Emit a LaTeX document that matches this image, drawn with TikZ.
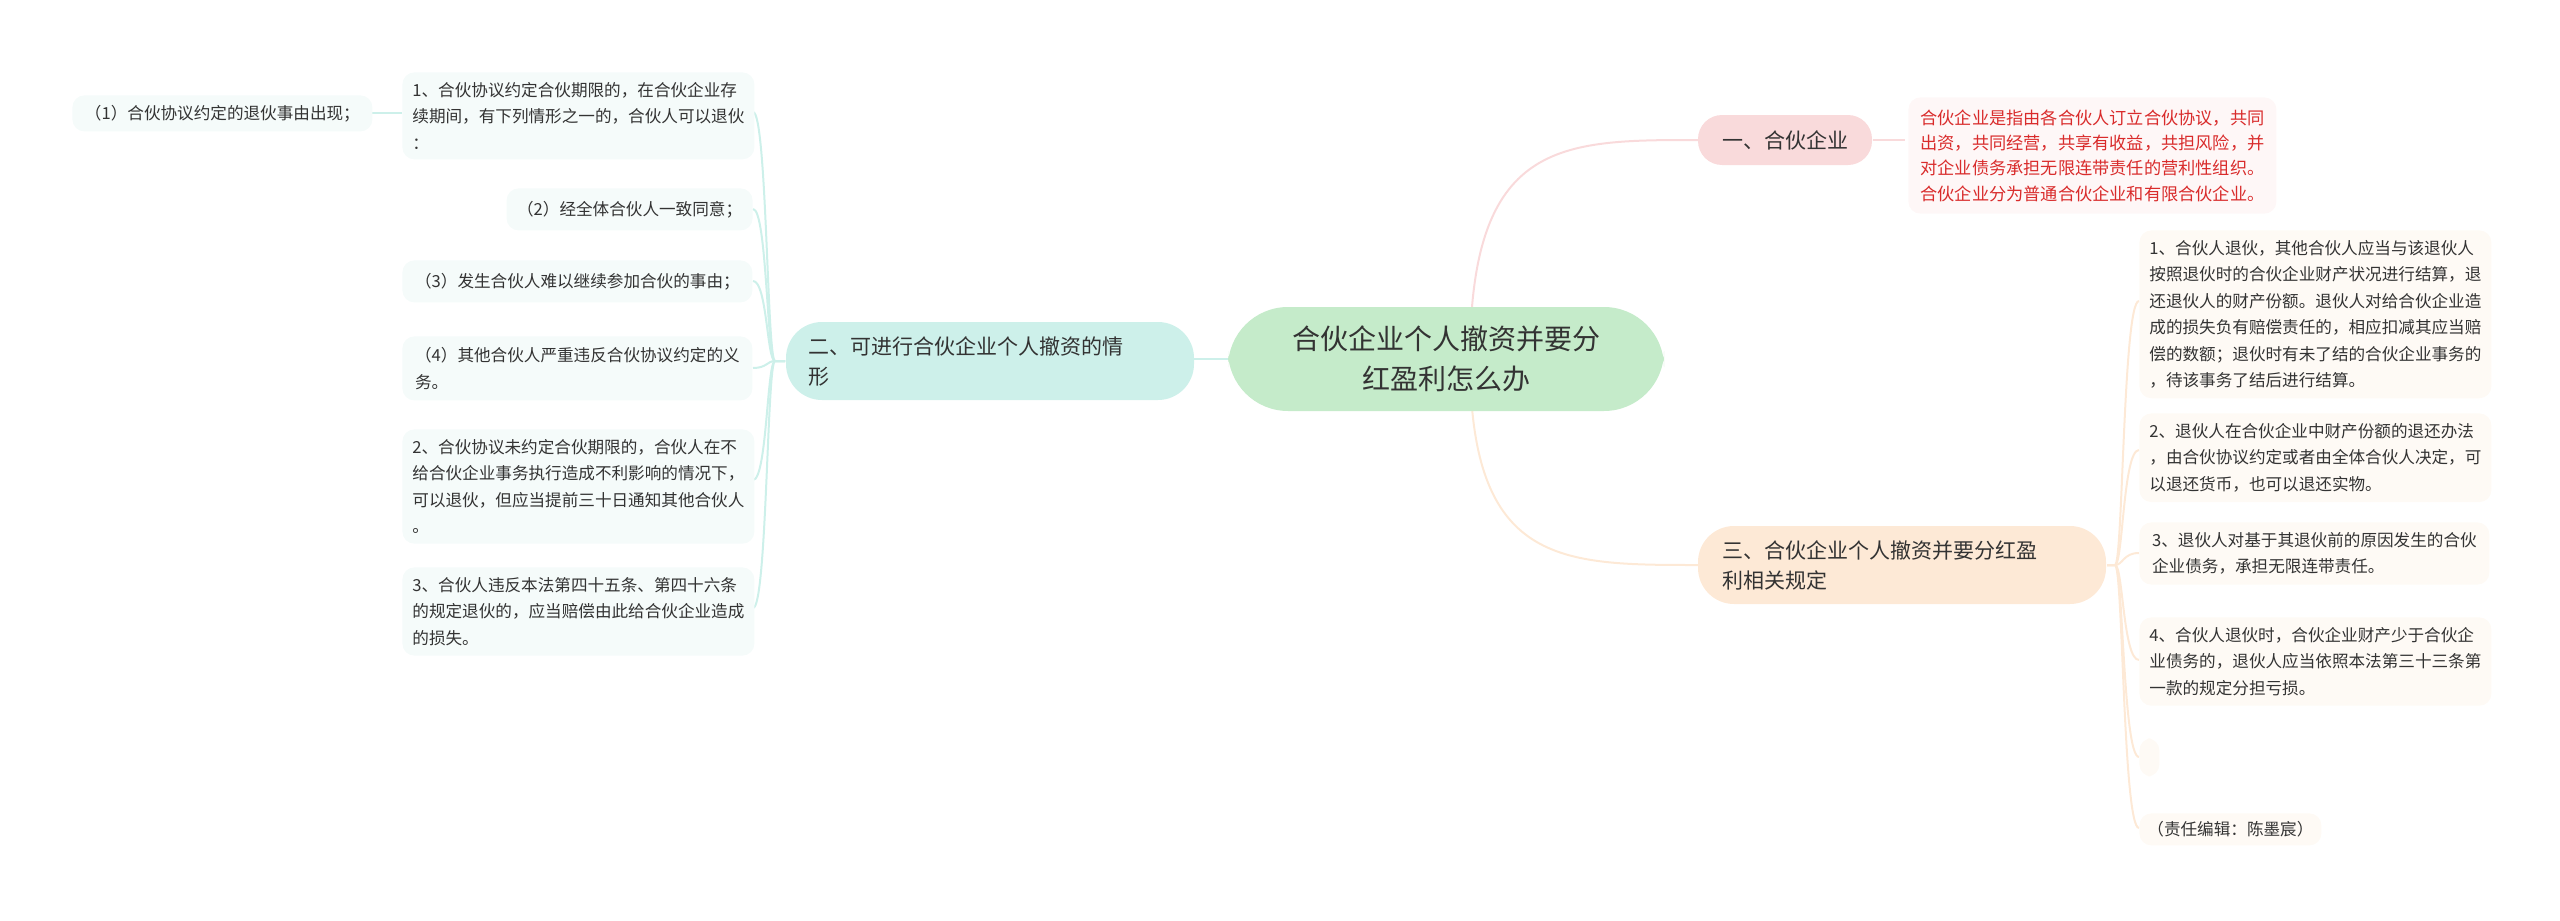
\documentclass[tikz,border=0pt]{standalone}
\usepackage{fontspec}
\setmainfont{Noto Sans CJK SC}
\definecolor{cgreen}{HTML}{C5EBCA}
\definecolor{cteal}{HTML}{CDF0EA}
\definecolor{cpink}{HTML}{F9DADB}
\definecolor{cpeach}{HTML}{FDE9D6}
\definecolor{tfill}{HTML}{F5FBFA}
\definecolor{pfill}{HTML}{FEFAF5}
\definecolor{rfill}{HTML}{FEF7F7}
\definecolor{redtxt}{HTML}{D92B2B}
\begin{document}
\begin{tikzpicture}[x=0.5pt,y=-0.5pt,
  base/.style={rounded corners=6pt,inner sep=0pt,anchor=north west,align=left,text=black!80},
  item/.style={base,font=\fontsize{8.3}{13.2}\selectfont},
  titem/.style={item,fill=tfill},
  pitem/.style={item,fill=pfill},
  tline/.style={draw=cteal,line width=1pt},
  pline/.style={draw=cpeach,line width=1pt},
  rline/.style={draw=cpink,line width=1pt}]
\useasboundingbox (0,0) rectangle (2560,921);
% connectors
\coordinate (cl) at (1228,359);
\draw[rline] (1470,359) .. controls (1470,140) and (1560,140) .. (1698,140);
\draw[pline] (1470,359) .. controls (1470,565) and (1560,565) .. (1698,565);
\draw[tline] (1194,359) -- (cl);
\draw[rline] (1873,140) -- (1905,140);
% left trunk
\foreach \y in {112,209,281,368,480,608}
  \draw[tline] (785,361) -- (775,361) .. controls (767,361) and (767,\y) .. (753,\y);
\draw[tline] (372,113) -- (402,113);
% right trunk
\foreach \y in {301,450,553,660,757,828}
  \draw[pline] (2107,565) -- (2115,565) .. controls (2123,565) and (2123,\y) .. (2139,\y);
% nodes
\node[base,fill=cgreen,rounded corners=30pt,minimum width=218pt,minimum height=52pt,anchor=center,align=center,font=\fontsize{14}{20}\selectfont] (ctr) at (1446,359) {合伙企业个人撤资并要分\\红盈利怎么办};
\node[base,fill=cpink,rounded corners=12pt,minimum width=87pt,minimum height=25pt,anchor=center,align=center,font=\fontsize{10.5}{14}\selectfont] (n1) at (1785,140) {一、合伙企业};
\node[base,fill=rfill,inner sep=6pt,text=redtxt,font=\fontsize{8.6}{12.7}\selectfont] (red) at (1908,97) {合伙企业是指由各合伙人订立合伙协议，共同\\出资，共同经营，共享有收益，共担风险，并\\对企业债务承担无限连带责任的营利性组织。\\合伙企业分为普通合伙企业和有限合伙企业。};
\node[base,fill=cpeach,rounded corners=18pt,minimum width=204pt,minimum height=39pt,anchor=center,font=\fontsize{10.5}{15}\selectfont,text width=180pt] (n3) at (1902,565) {三、合伙企业个人撤资并要分红盈\\利相关规定};
\node[base,fill=cteal,rounded corners=18pt,minimum width=204pt,minimum height=39pt,anchor=center,font=\fontsize{10.5}{15}\selectfont,text width=182pt] (n2) at (990,361) {二、可进行合伙企业个人撤资的情\\形};
% left items
\node[titem,minimum width=175pt,minimum height=40pt,inner sep=5pt] (l1) at (402,72) {1、合伙协议约定合伙期限的，在合伙企业存\\续期间，有下列情形之一的，合伙人可以退伙\\：};
\node[titem,minimum width=150pt,minimum height=18pt,inner sep=4pt] (l1s) at (72,95) {（1）合伙协议约定的退伙事由出现；};
\node[titem,minimum width=123pt,minimum height=21pt,inner sep=4pt,anchor=north east] (l2) at (753,188) {（2）经全体合伙人一致同意；};
\node[titem,minimum width=175pt,minimum height=21pt,inner sep=4pt] (l3) at (402,260) {（3）发生合伙人难以继续参加合伙的事由；};
\node[titem,minimum width=175pt,minimum height=32pt,inner sep=5pt] (l4) at (402,336) {（4）其他合伙人严重违反合伙协议约定的义\\务。};
\node[titem,minimum width=175pt,minimum height=51pt,inner sep=5pt] (l5) at (402,429) {2、合伙协议未约定合伙期限的，合伙人在不\\给合伙企业事务执行造成不利影响的情况下，\\可以退伙，但应当提前三十日通知其他合伙人\\。};
\node[titem,minimum width=175pt,minimum height=41pt,inner sep=5pt] (l6) at (402,567) {3、合伙人违反本法第四十五条、第四十六条\\的规定退伙的，应当赔偿由此给合伙企业造成\\的损失。};
% right items
\node[pitem,minimum width=175pt,minimum height=71pt,inner sep=5pt] (r1) at (2139,230) {1、合伙人退伙，其他合伙人应当与该退伙人\\按照退伙时的合伙企业财产状况进行结算，退\\还退伙人的财产份额。退伙人对给合伙企业造\\成的损失负有赔偿责任的，相应扣减其应当赔\\偿的数额；退伙时有未了结的合伙企业事务的\\，待该事务了结后进行结算。};
\node[pitem,minimum width=175pt,minimum height=37pt,inner sep=5pt] (r2) at (2139,413) {2、退伙人在合伙企业中财产份额的退还办法\\，由合伙协议约定或者由全体合伙人决定，可\\以退还货币，也可以退还实物。};
\node[pitem,minimum width=175pt,minimum height=31pt,inner sep=5pt] (r3) at (2139,522) {3、退伙人对基于其退伙前的原因发生的合伙\\企业债务，承担无限连带责任。};
\node[pitem,minimum width=175pt,minimum height=42pt,inner sep=5pt] (r4) at (2139,617) {4、合伙人退伙时，合伙企业财产少于合伙企\\业债务的，退伙人应当依照本法第三十三条第\\一款的规定分担亏损。};
\node[pitem,minimum width=10pt,minimum height=19pt] (r5) at (2139,738) {};
\node[pitem,minimum width=91pt,minimum height=16pt,inner sep=4pt] (r6) at (2139,813) {（责任编辑：陈墨宸）};
\end{tikzpicture}
\end{document}
